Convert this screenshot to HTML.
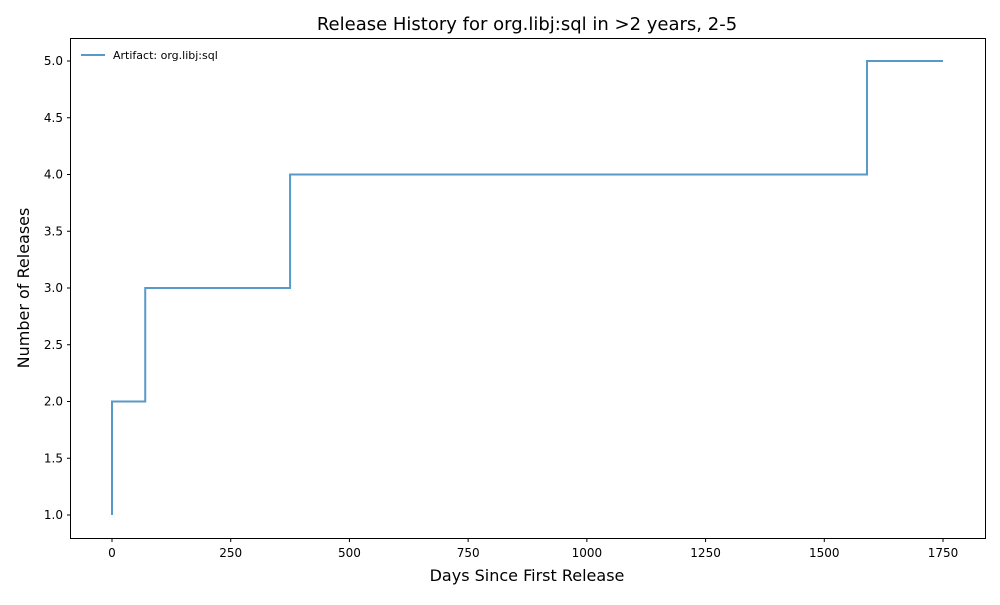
<!DOCTYPE html>
<html><head><meta charset="utf-8"><style>
body{margin:0;background:#fff;font-family:"Liberation Sans","DejaVu Sans",sans-serif}
svg text{font-family:"DejaVu Sans","Liberation Sans",sans-serif}
</style></head><body>
<svg id="chart" width="1000" height="600">
<rect x="0" y="0" width="1000" height="600" fill="#fff"/>
<text x="527" y="30" font-size="18" text-anchor="middle">Release History for org.libj:sql in &gt;2 years, 2-5</text>
<text x="527" y="581" font-size="16" text-anchor="middle">Days Since First Release</text>
<text transform="translate(29,288) rotate(-90)" font-size="16" text-anchor="middle">Number of Releases</text>
<g id="xticks"></g><g id="yticks"></g><g id="series"></g>
<rect x="70.5" y="38.5" width="915" height="500" fill="none" stroke="#000" stroke-width="1"/>
<g>
<line x1="81" y1="55" x2="105" y2="55" stroke="#1f77b4" stroke-opacity="0.75" stroke-width="2"/>
<text x="113" y="59" font-size="11">Artifact: org.libj:sql</text>
</g>
</svg>
<script>
const days=[0,0,70,375,1590,1750];
const releases=[1,2,3,4,5,5];
const xTicks=[0,250,500,750,1000,1250,1500,1750];
const yTicks=[1.0,1.5,2.0,2.5,3.0,3.5,4.0,4.5,5.0];
const NS="http://www.w3.org/2000/svg";
const xs=d=>112+d*(831/1750);
const ys=v=>515-(v-1)*113.5;
const xg=document.getElementById('xticks'),yg=document.getElementById('yticks'),sg=document.getElementById('series');
xTicks.forEach(t=>{
 const l=document.createElementNS(NS,'line');l.setAttribute('x1',xs(t));l.setAttribute('x2',xs(t));l.setAttribute('y1',538.5);l.setAttribute('y2',542);l.setAttribute('stroke','#000');
 
 
 xg.appendChild(l);
 const tx=document.createElementNS(NS,'text');tx.setAttribute('x',xs(t));tx.setAttribute('y',557);tx.setAttribute('font-size','12');tx.setAttribute('text-anchor','middle');tx.textContent=t;
 
 
 xg.appendChild(tx);
});
yTicks.forEach(t=>{
 const l=document.createElementNS(NS,'line');l.setAttribute('x1',67);l.setAttribute('x2',70.5);l.setAttribute('y1',ys(t));l.setAttribute('y2',ys(t));l.setAttribute('stroke','#000');
 
 
 yg.appendChild(l);
 const tx=document.createElementNS(NS,'text');tx.setAttribute('x',63);tx.setAttribute('y',ys(t)+4);tx.setAttribute('font-size','12');tx.setAttribute('text-anchor','end');tx.textContent=t.toFixed(1);
 
 
 yg.appendChild(tx);
});
let d='M'+xs(days[0])+','+ys(releases[0]);
for(let i=1;i<days.length;i++){d+=' H'+xs(days[i])+' V'+ys(releases[i]);}
const p=document.createElementNS(NS,'path');p.setAttribute('d',d);p.setAttribute('fill','none');p.setAttribute('stroke','#1f77b4');p.setAttribute('stroke-opacity','0.75');p.setAttribute('stroke-width','2');


sg.appendChild(p);
</script>
</body></html>
